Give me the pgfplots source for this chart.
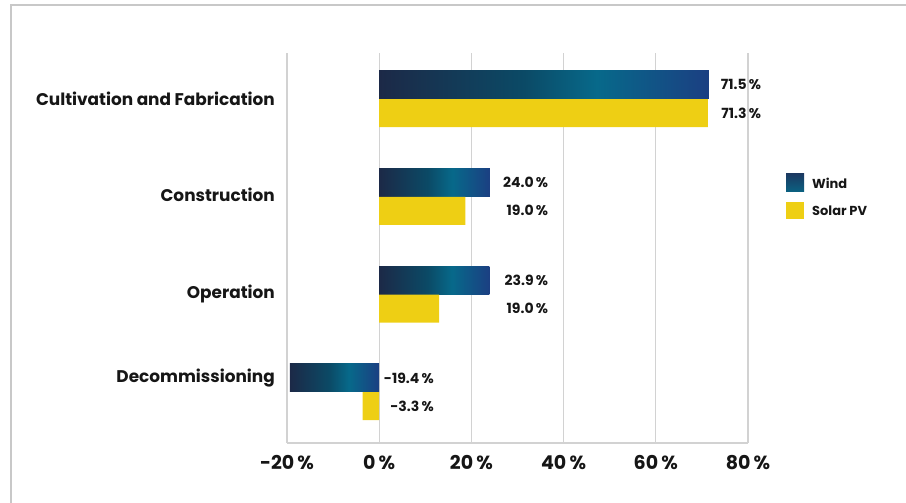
\documentclass[border=0pt]{standalone}
\usepackage{fontspec}
\setmainfont{Poppins}
\usepackage{pgfplots}
\usepackage{pgfplotstable}
\pgfplotsset{compat=1.18}
\definecolor{wA}{HTML}{1C2947}
\definecolor{wB}{HTML}{0B4A66}
\definecolor{wC}{HTML}{07698A}
\definecolor{wD}{HTML}{1B3F82}
\definecolor{lA}{HTML}{1B3A62}
\definecolor{lB}{HTML}{0A6282}
\definecolor{solar}{HTML}{EECF14}
\definecolor{gridc}{HTML}{D2D2D2}
\definecolor{framec}{HTML}{C8C8C8}
\definecolor{txt}{HTML}{161616}
\pgfdeclarehorizontalshading{windshade}{100bp}{color(0bp)=(wA); color(25bp)=(wA); color(47bp)=(wB); color(58bp)=(wC); color(75bp)=(wD); color(100bp)=(wD)}
% categories: 3 Cultivation, 2 Construction, 1 Operation, 0 Decommissioning
\pgfplotstableread{
x y
71.3 2.855
18.7 1.855
13.0 0.855
-3.6 -0.145
}\solartab
\pgfplotstableread{
x y v
82.9 3.145 71.5
82.9 2.855 71.3
36.7 2.145 24.0
36.7 1.855 19.0
36.7 1.145 23.9
36.7 0.855 19.0
11.9 0.145 -19.4
11.9 -0.145 -3.3
}\labtab
\begin{document}
\begin{tikzpicture}
\useasboundingbox (0,0) rectangle (906pt,503pt);
\draw[framec, line width=1.6pt] (11pt,0pt) -- (11pt,498pt) -- (906pt,498pt);
\begin{axis}[
  at={(287pt,60pt)}, anchor=south west,
  scale only axis, width=461pt, height=390pt,
  xmin=-20, xmax=80, ymin=-0.522, ymax=3.471,
  axis lines=left,
  axis line style={-, draw=gridc, line width=1.3pt},
  xtick={-20,0,20,40,60,80},
  ytick={0.14,1,2.02,3},
  yticklabels={Decommissioning,Operation,Construction,Cultivation and Fabrication},
  xmajorgrids, grid style={draw=gridc, line width=1.3pt},
  major tick length=0pt,
  /pgf/number format/assume math mode=true,
  xticklabel={\pgfmathprintnumber{\tick}\,\%},
  xticklabel style={font=\bfseries\fontsize{19}{22}\selectfont, text=txt, inner sep=0pt, anchor=north, yshift=-12pt},
  yticklabel style={font=\bfseries\fontsize{16.9}{20}\selectfont, text=txt, inner sep=0pt, anchor=east, xshift=-12pt},
  clip=false,
]
\addplot[xbar, bar width=28pt, bar shift=0pt, draw=none, shading=windshade] coordinates {(71.5,3.145)};
\addplot[xbar, bar width=28pt, bar shift=0pt, draw=none, shading=windshade] coordinates {(24.0,2.145)};
\addplot[xbar, bar width=28pt, bar shift=0pt, draw=none, shading=windshade] coordinates {(23.9,1.145)};
\addplot[xbar, bar width=28pt, bar shift=0pt, draw=none, shading=windshade] coordinates {(-19.4,0.145)};
\addplot[xbar, bar width=28pt, bar shift=0pt, draw=none, fill=solar] table[x=x, y=y] {\solartab};
\addplot[draw=none, mark=none, point meta=explicit,
  nodes near coords={\pgfmathprintnumber[fixed, fixed zerofill, precision=1]{\pgfplotspointmeta}\,\%},
  nodes near coords style={anchor=east, inner sep=0pt, text=txt, font=\bfseries\fontsize{14}{17}\selectfont}]
  table[x=x, y=y, meta=v] {\labtab};
\end{axis}
\shade[top color=lA, bottom color=lB] (786pt,311pt) rectangle (804pt,329pt);
\fill[solar] (786pt,284pt) rectangle (804pt,301pt);
\node[anchor=west, inner sep=0pt, text=txt, font=\bfseries\fontsize{13}{15}\selectfont] at (812pt,320pt) {Wind};
\node[anchor=west, inner sep=0pt, text=txt, font=\bfseries\fontsize{13}{15}\selectfont] at (812pt,292pt) {Solar PV};
\end{tikzpicture}
\end{document}
